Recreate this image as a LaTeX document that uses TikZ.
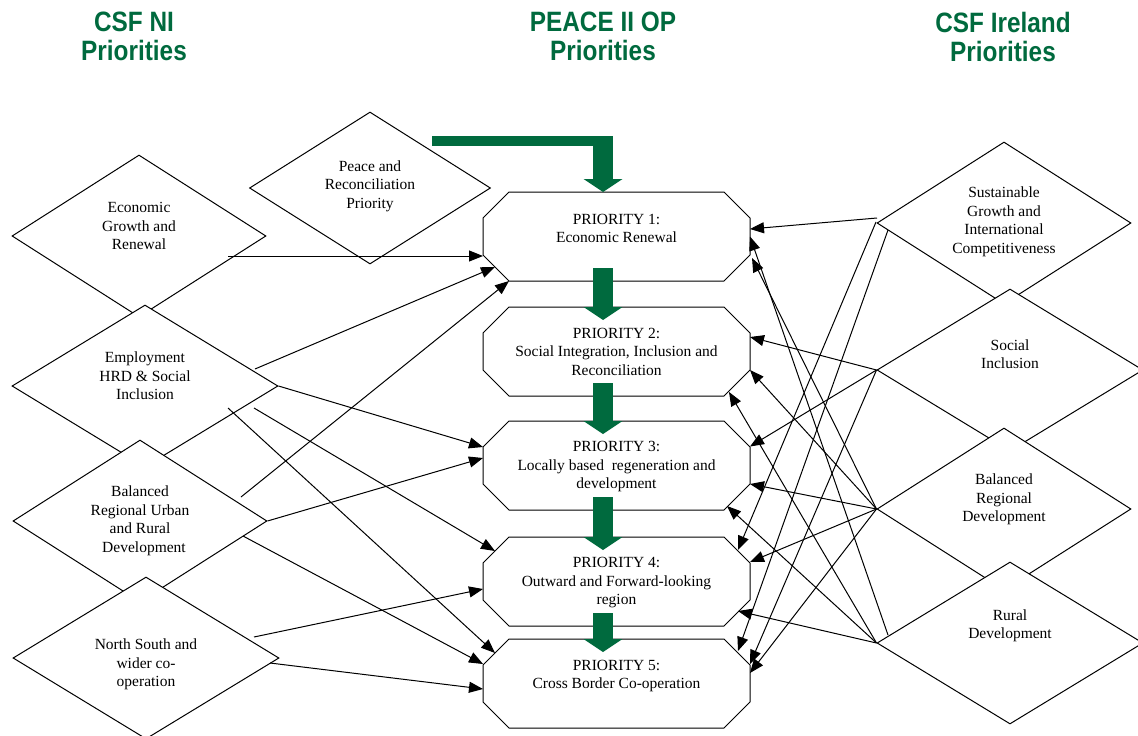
\documentclass[tikz,border=0pt]{standalone}
\usepackage{fontspec}
\setmainfont{Liberation Serif}
\newfontfamily\headfont{Liberation Sans}[FakeStretch=0.87]
\usetikzlibrary{arrows.meta,positioning,shapes.geometric}
\definecolor{peacegreen}{RGB}{0,106,62}

\begin{document}
\begin{tikzpicture}[
  x=1pt, y=-1pt,
  head/.style={font=\headfont\bfseries\fontsize{28}{29}\selectfont, text=peacegreen, align=center, inner sep=0},
  dtext/.style={align=center, font=\fontsize{15.5}{18.5}\selectfont, inner sep=0},
  prio/.style={rectangle, minimum width=267pt, minimum height=89pt, inner sep=0, outer sep=0},
  octo/.style={draw, line width=1pt, fill=white},
  optbox/.style={diamond, draw, line width=1pt, fill=white, inner sep=0, minimum width=254pt, minimum height=162pt},
  wideopt/.style={optbox, minimum width=266pt},
  link/.style={-{Triangle[length=14pt,width=11pt]}, line width=1pt},
  pipe/.style={draw=peacegreen, line width=20pt, -{Triangle[length=13pt,width=39pt,line width=0pt]}}
]
\useasboundingbox (0,0) rectangle (1138,736);

% column headings
\node[head] (nihead) at (134,36.5) {CSF NI\\Priorities};
\node[head] (ophead) at (603,36.5) {PEACE II OP\\Priorities};
\node[head] (iehead) at (1003,36.5) {CSF Ireland\\Priorities};

% CSF NI priorities
\node[optbox] (egr) at (139,236) {};
\node[optbox, minimum width=241pt, minimum height=152pt] (peace) at (370,188) {};
\node[wideopt] (emp) at (145,386) {};
\node[optbox] (brur) at (140,521) {};
\node[wideopt] (nsc) at (146,658) {};

% CSF Ireland priorities
\node[optbox] (sgic) at (1004,223) {};
\node[wideopt] (sinc) at (1010,370) {};
\node[optbox] (brd) at (1004,509) {};
\node[wideopt] (rdev) at (1010,643) {};

% PEACE II priorities
\node[prio] (p1) at (616.5,236.5) {};
\node[prio, below=26pt of p1] (p2) {};
\node[prio, below=25pt of p2] (p3) {};
\node[prio, below=27pt of p3] (p4) {};
\node[prio, below=13pt of p4] (p5) {};
\foreach \p in {p1,p2,p3,p4,p5}
  \draw[octo] ([xshift=26pt]\p.north west) -- ([xshift=-26pt]\p.north east)
    -- ([yshift=-26pt]\p.north east) -- ([yshift=26pt]\p.south east)
    -- ([xshift=-26pt]\p.south east) -- ([xshift=26pt]\p.south west)
    -- ([yshift=26pt]\p.south west) -- ([yshift=-26pt]\p.north west) -- cycle;

\node[dtext] (egr-t) at ([yshift=10pt]egr.center) {Economic\\Growth and\\Renewal};
\node[dtext] (peace-t) at ([yshift=2pt]peace.center) {Peace and\\Reconciliation\\Priority};
\node[dtext] (emp-t) at ([yshift=10pt]emp.center) {Employment\\HRD \& Social\\Inclusion};
\node[dtext] (brur-t) at (brur.center) {Balanced\\Regional Urban\\and Rural\\\hspace*{8pt}Development};
\node[dtext] (nsc-t) at ([yshift=-6.5pt]nsc.center) {North South and\\wider co-\\operation};
\node[dtext] (sgic-t) at ([yshift=1pt]sgic.center) {Sustainable\\Growth and\\International\\Competitiveness};
\node[dtext] (sinc-t) at ([yshift=16pt]sinc.center) {Social\\Inclusion};
\node[dtext] (brd-t) at ([yshift=9.5pt]brd.center) {Balanced\\Regional\\Development};
\node[dtext] (rdev-t) at ([yshift=17pt]rdev.center) {Rural\\Development};

\node[dtext] (p1-t) at ([yshift=8pt]p1.center) {PRIORITY 1:\\Economic Renewal};
\node[dtext] (p2-t) at (p2.center) {PRIORITY 2:\\Social Integration, Inclusion and\\Reconciliation};
\node[dtext] (p3-t) at ([yshift=-1.5pt]p3.center) {PRIORITY 3:\\Locally based~ regeneration and\\development};
\node[dtext] (p4-t) at ([yshift=-1.5pt]p4.center) {PRIORITY 4:\\Outward and Forward-looking\\region};
\node[dtext] (p5-t) at ([yshift=7.5pt]p5.center) {PRIORITY 5:\\Cross Border Co-operation};

% CSF NI links
\draw[link] ([shift={(89,20)}]egr.center) -- ([shift={(-133.5,19.5)}]p1.center);
\draw[link] ([shift={(110,-17)}]emp.center) -- ([shift={(-121.5,30.5)}]p1.center);
\draw[link] (emp.east) -- ([shift={(-133.5,-18.5)}]p3.center);
\draw[link] ([shift={(109,22)}]emp.center) -- ([shift={(-121.5,-30.5)}]p4.center);
\draw[link] ([shift={(83,22)}]emp.center) -- ([shift={(-121.5,-30.5)}]p5.center);
\draw[link] ([shift={(101,-24)}]brur.center) -- ([shift={(-107.5,44.5)}]p1.center);
\draw[link] (brur.east) -- ([shift={(-133.5,-7.5)}]p3.center);
\draw[link] ([shift={(103,15)}]brur.center) -- ([shift={(-133.5,-19.5)}]p5.center);
\draw[link] ([shift={(108,-21)}]nsc.center) -- ([shift={(-133.5,7.5)}]p4.center);
\draw[link] ([shift={(124,5)}]nsc.center) -- ([shift={(-133.5,5.5)}]p5.center);

% CSF Ireland links
\draw[link] ([shift={(-127,-5)}]sgic.center) -- ([shift={(133.5,-7.5)}]p1.center);
\draw[link] ([shift={(-128,-1)}]sgic.center) -- ([shift={(121.5,-31.5)}]p4.center);
\draw[link] ([shift={(-116,7)}]sgic.center) -- ([shift={(121.5,-32.5)}]p5.center);
\draw[link] (sinc.west) -- ([shift={(133.5,-14.5)}]p2.center);
\draw[link] (sinc.west) -- ([shift={(133.5,-19)}]p3.center);
\draw[link] (sinc.west) -- ([shift={(133.5,-19.5)}]p5.center);
\draw[link] (brd.west) -- ([shift={(135.5,21.5)}]p1.center);
\draw[link] (brd.west) -- ([shift={(133.5,18.5)}]p2.center);
\draw[link] (brd.west) -- ([shift={(133.5,18.5)}]p3.center);
\draw[link] (brd.west) -- ([shift={(133.5,-19.5)}]p4.center);
\draw[link] (brd.west) -- ([shift={(133.5,-10.5)}]p5.center);
\draw[link] ([shift={(-122,-8)}]rdev.center) -- (p1.east);
\draw[link] (rdev.west) -- ([shift={(112.5,40.5)}]p2.center);
\draw[link] (rdev.west) -- ([shift={(110.5,40.5)}]p3.center);
\draw[link] (rdev.west) -- ([shift={(121.5,29.5)}]p4.center);

% green flow
\coordinate (pstart) at ([shift={(67,-47)}]peace.center);
\coordinate (ptop) at ([xshift=-13.5pt]p1.north);
\coordinate (pbend) at (pstart -| ptop);
\draw[peacegreen, line width=10pt, line cap=rect] (pstart) -- (pbend);
\draw[pipe] ([yshift=5pt]pbend) -- (ptop);
\foreach \a/\b in {p1/p2,p2/p3,p3/p4,p4/p5}
  \draw[pipe] ([shift={(-13.5,-13)}]\a.south) -- ([shift={(-13.5,13)}]\b.north);

\end{tikzpicture}
\end{document}
